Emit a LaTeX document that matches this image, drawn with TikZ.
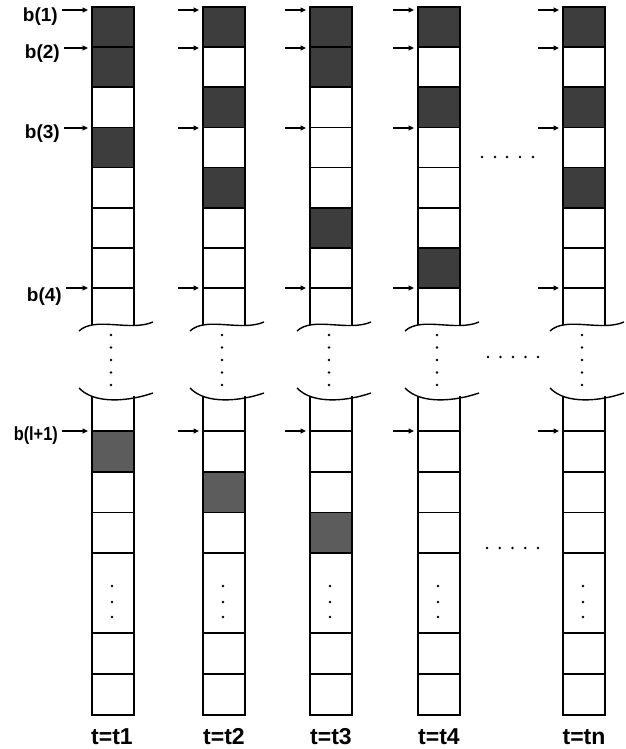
\documentclass[tikz,border=0pt]{standalone}
\usepackage{fontspec}
\setmainfont{Liberation Sans}
\usetikzlibrary{arrows.meta}
\begin{document}
\begin{tikzpicture}[x=1pt,y=-1pt,
  box/.style={line width=1.6pt},
  wave/.style={line width=1.4pt},
  shadeA/.style={fill=black!76},
  shadeB/.style={fill=black!64},
  arr/.style={line width=1.5pt,-{Triangle[length=5.5pt,width=5pt]},shorten >=4pt},
  blab/.style={font=\fontsize{19}{22}\selectfont\bfseries,inner sep=0pt,anchor=base east},
  tlab/.style={font=\fontsize{23}{26}\selectfont\bfseries,inner sep=0pt,anchor=base},
]
\useasboundingbox[fill=white] (0,0) rectangle (625,749);
\def\rh{40.14}
\def\W{42}
\foreach \L/\sh/\lo [count=\ci] in {92/{1,2,4}/1, 203/{1,3,5}/2, 310/{1,2,6}/3, 418/{1,3,7}/0, 563/{1,3,5}/0} {
  % shaded cells, upper part
  \foreach \s in \sh { \fill[shadeA] ({\L},{7+(\s-1)*\rh}) rectangle ++(\W,\rh); }
  % shaded cell, lower part
  \ifnum\lo>0
    \fill[shadeB] ({\L},{431+(\lo-1)*40.7}) rectangle ++(\W,40.7);
  \fi
  % upper outline
  \draw[box] ({\L},325) -- ({\L},7) -- ({\L+\W},7) -- ({\L+\W},325);
  \foreach \k in {1,...,7} { \draw[box] ({\L},{7+\k*\rh}) -- ++(\W,0); }
  % lower outline
  \draw[box] ({\L},396) -- ({\L},715) -- ({\L+\W},715) -- ({\L+\W},396);
  \foreach \yy in {431,471.7,512.4,553.1,633,674} { \draw[box] ({\L},\yy) -- ++(\W,0); }
  % break waves
  \draw[wave] ({\L-13},331) .. controls ({\L+3},316) and ({\L+38},332) .. ({\L+61},322);
  \draw[wave] ({\L-13},388) .. controls ({\L+3},405) and ({\L+38},401) .. ({\L+61},393);
  % vertical dots
  \foreach \yy in {335,347.5,360,372.5,385} { \fill ({\L+19},\yy) circle (1.4); }
  \foreach \yy in {586,602,617} { \fill ({\L+20},\yy) circle (1.4); }
  % arrow targets and tails
  \foreach \k/\yy in {1/10,2/48,3/128,4/288,5/431} {
    \coordinate (c\ci-\k) at ({\L},\yy);
    \coordinate (t\ci-\k) at ({\L-25},\yy);
  }
}
% labels of the first column
\node[blab] (lb1) at (58,22) {b(1)};
\node[blab] (lb2) at (60,59) {b(2)};
\node[blab] (lb3) at (60,139) {b(3)};
\node[blab] (lb4) at (62,301) {b(4)};
\node[blab] (lb5) at (58,440) {\scalebox{0.86}[1]{b(l+1)}};
\foreach \k in {1,...,5} {
  \draw[arr,shorten <=4pt] (lb\k.east |- c1-\k) -- (c1-\k);
}
% arrows of the other columns
\foreach \ci in {2,...,5} {
  \foreach \k in {1,...,5} {
    \draw[arr] (t\ci-\k) -- (c\ci-\k);
  }
}
% horizontal dots between the fourth and last columns
\foreach \xx in {482,495,507,520,533} { \fill (\xx,157) circle (1.4); }
\foreach \xx in {488,500.5,513,525.5,538} { \fill (\xx,357) circle (1.4); }
\foreach \xx in {487,499.75,512.5,525.25,538} { \fill (\xx,548) circle (1.4); }
% time labels
\node[tlab] (tt1) at (112,744) {t=t1};
\node[tlab] (tt2) at (224,744) {t=t2};
\node[tlab] (tt3) at (331,744) {t=t3};
\node[tlab] (tt4) at (439,744) {t=t4};
\node[tlab] (tt5) at (584,744) {t=tn};
\end{tikzpicture}
\end{document}
